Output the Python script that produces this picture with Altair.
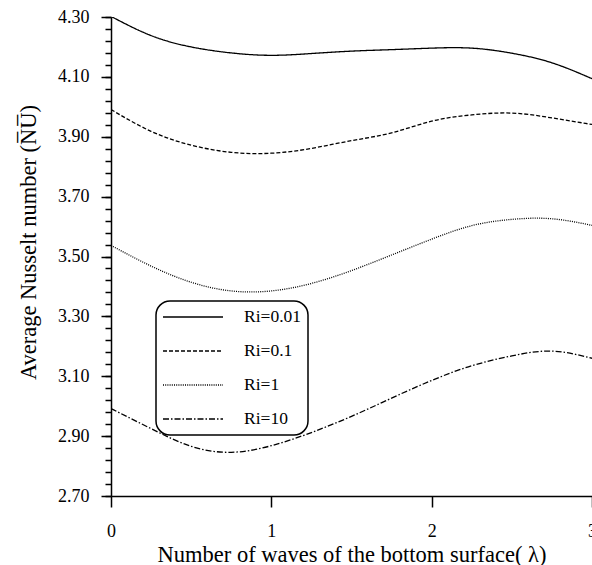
import altair as alt
import pandas as pd

# Wave number of the bottom surface
lam = [0.0, 0.25, 0.5, 0.75, 1.0, 1.25, 1.5, 1.75, 2.0, 2.25, 2.5, 2.75, 3.0]

# Average Nusselt number for each Richardson number
nu_ri001 = [4.302, 4.238, 4.200, 4.180, 4.172, 4.178, 4.186, 4.191, 4.196, 4.196, 4.179, 4.147, 4.094]
nu_ri01 = [3.991, 3.918, 3.872, 3.848, 3.845, 3.861, 3.887, 3.913, 3.952, 3.973, 3.979, 3.963, 3.941]
nu_ri1 = [3.537, 3.468, 3.414, 3.385, 3.385, 3.410, 3.453, 3.505, 3.558, 3.603, 3.624, 3.626, 3.604]
nu_ri10 = [2.992, 2.925, 2.866, 2.846, 2.868, 2.912, 2.966, 3.027, 3.086, 3.135, 3.168, 3.184, 3.160]

series_names = ["Ri=0.01", "Ri=0.1", "Ri=1", "Ri=10"]
series_values = [nu_ri001, nu_ri01, nu_ri1, nu_ri10]
dash_patterns = [[1, 0], [4, 2], [1, 1.2], [6, 2, 1.5, 2]]

x_ticks = [0, 1, 2, 3]
y_major = [2.70, 2.90, 3.10, 3.30, 3.50, 3.70, 3.90, 4.10, 4.30]
y_minor = [round(2.70 + 0.04 * k, 2) for k in range(41)]

rows = []
for name, vals in zip(series_names, series_values):
    for xv, yv in zip(lam, vals):
        rows.append({"lam": xv, "nu": yv, "case": name})
df = pd.DataFrame(rows)

FONT = "Times New Roman, Liberation Serif, serif"

x_scale = alt.Scale(domain=[0, 3], nice=False, zero=False)
y_scale = alt.Scale(domain=[2.70, 4.30], nice=False, zero=False)

x_enc = alt.X(
    "lam:Q",
    scale=x_scale,
    axis=alt.Axis(
        values=x_ticks,
        format="d",
        title="Number of waves of the bottom surface( λ)",
        tickSize=11,
        tickWidth=1.5,
        domainWidth=1.5,
        labelPadding=15,
        labelFlush=False,
        labelOverlap=False,
        labelFontSize=18,
        labelFont=FONT,
        titleFont=FONT,
        titleFontSize=22.5,
        titleBaseline="alphabetic",
        titleY=65,
    ),
)

lines = alt.Chart(df).mark_line(
    color="black", strokeWidth=1.3, interpolate="natural", clip=True
).encode(
    x=x_enc,
    y=alt.Y(
        "nu:Q",
        scale=y_scale,
        axis=alt.Axis(
            orient="left",
            values=y_major,
            format=".2f",
            title="Average Nusselt number (N\u0305U\u0305)",
            tickSize=10,
            tickWidth=1.5,
            domainWidth=1.5,
            labelPadding=12,
            labelFlush=False,
            labelOverlap=False,
            labelFontSize=18,
            labelFont=FONT,
            titleFont=FONT,
            titleFontSize=22.5,
            titleAngle=-90,
            titleBaseline="alphabetic",
            titleAlign="center",
            titleX=-76,
            titleY=225,
        ),
    ),
    strokeDash=alt.StrokeDash(
        "case:N",
        scale=alt.Scale(domain=series_names, range=dash_patterns),
        sort=series_names,
        legend=alt.Legend(
            title=None,
            orient="none",
            legendX=45,
            legendY=284,
            symbolType="stroke",
            symbolSize=3600,
            symbolStrokeWidth=1.3,
            symbolStrokeColor="black",
            labelFont=FONT,
            labelFontSize=17.5,
            labelOffset=20,
            padding=6,
            rowPadding=14,
            clipHeight=20,
            strokeColor="black",
            fillColor="white",
            cornerRadius=14,
        ),
    ),
)

# transparent copy of the curves that only carries the minor y ticks
minor = alt.Chart(df).mark_line(opacity=0).encode(
    x=alt.X("lam:Q", scale=x_scale),
    y=alt.Y(
        "nu:Q",
        scale=y_scale,
        axis=alt.Axis(
            orient="left",
            values=y_minor,
            labels=False,
            domain=False,
            tickSize=6,
            tickWidth=1.5,
            title=None,
        ),
    ),
)

chart = (
    alt.layer(lines, minor)
    .resolve_scale(y="shared")
    .resolve_axis(y="independent")
    .properties(
        width=481,
        height=479,
        padding={"left": 111, "top": 17, "right": 0, "bottom": 69},
        autosize=alt.AutoSizeParams(type="none"),
        background="white",
    )
    .configure(font=FONT)
    .configure_view(strokeWidth=0)
    .configure_axis(
        grid=False,
        labelFont=FONT,
        titleFont=FONT,
        labelColor="black",
        titleColor="black",
        domainColor="black",
        tickColor="black",
        titleFontWeight="normal",
    )
    .configure_legend(
        labelFont=FONT,
        labelColor="black",
        strokeWidth=1.5,
    )
)

chart.save("out.html", embed_options={"renderer": "svg", "actions": False})
